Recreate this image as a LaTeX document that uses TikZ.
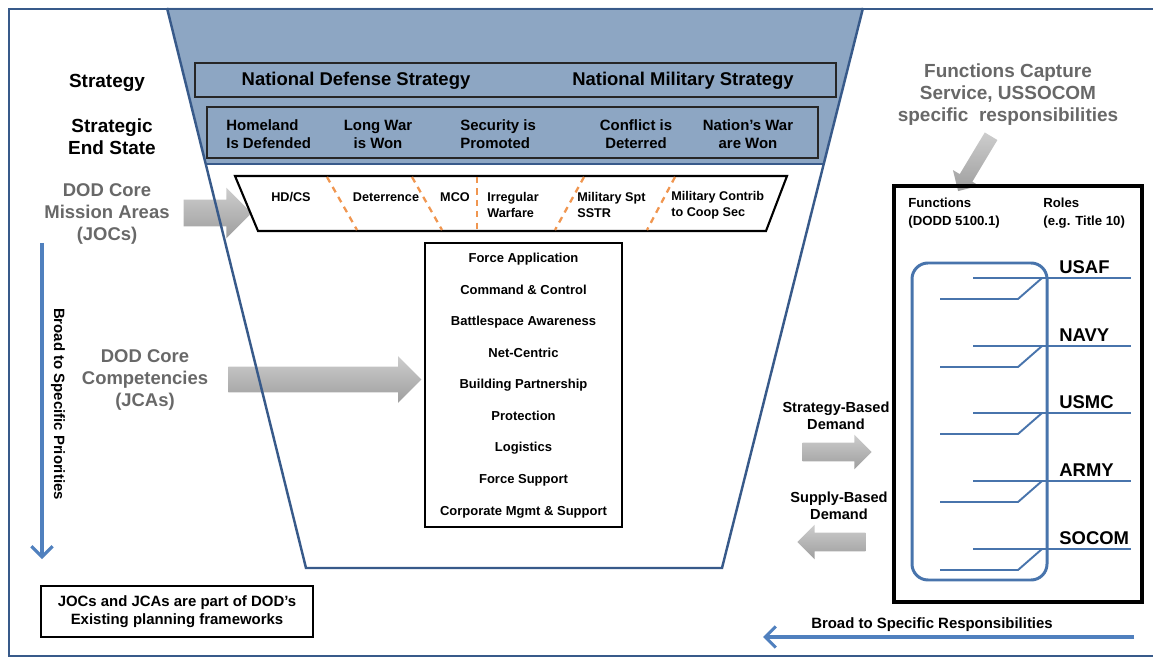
\documentclass[tikz,border=0pt]{standalone}
\usepackage{fontspec}
\setmainfont{Liberation Sans}
\usetikzlibrary{arrows.meta,shapes.arrows}
\newcommand\fnt[2]{\fontsize{#1}{#2}\selectfont\bfseries}
\newdimen\px \px=0.02cm
\definecolor{frame_blue}{RGB}{56,90,138}
\definecolor{fill_blue}{RGB}{141,166,195}
\definecolor{role_blue}{RGB}{72,116,172}
\definecolor{edge_blue}{RGB}{80,128,190}
\definecolor{dash_orange}{RGB}{240,150,80}
\definecolor{label_gray}{RGB}{104,104,104}
\definecolor{block_dark}{RGB}{158,158,158}
\definecolor{block_light}{RGB}{205,205,205}

\begin{document}
\begin{tikzpicture}[x=0.02cm,y=-0.02cm]
    \tikzstyle{txt}=[inner sep=0pt, align=center, text=black]
    \tikzstyle{gtxt}=[txt, text=label_gray]
    \tikzstyle{box}=[draw=black, line width=1.2pt, inner sep=0pt, align=center]
    \tikzstyle{sbox}=[draw=black!85, line width=1pt, inner sep=0pt]
    \tikzstyle{blk}=[single arrow, inner xsep=0pt, top color=block_light, bottom color=block_dark]
    \tikzstyle{flow}=[edge_blue, line width=1.8pt, -{Straight Barb[length=6pt,width=12pt]}]
    \tikzstyle{divider}=[dash_orange, line width=1.3pt, dash pattern=on 3.5pt off 3pt]
    \tikzstyle{role}=[role_blue, line width=1.1pt]

    \useasboundingbox (0,0) rectangle (1153,658);

    % funnel, blue top part
    \fill[fill_blue] (167,8) -- (863,8) -- (824,164) -- (206,164) -- cycle;

    % block arrows
    \node[blk, minimum height=68\px, minimum width=50\px, inner ysep=13\px, single arrow head extend=12\px] (arrJOC) at (211,213) {};
    \node[blk, minimum height=193\px, minimum width=46\px, inner ysep=12.5\px, single arrow head extend=10.5\px] (arrJCA) at (318.5,379.5) {};

    \draw[frame_blue, line width=1.4pt] (167,8) -- (306,568) -- (722,568) -- (863,8);
    \draw[frame_blue, line width=1.3pt] (206,164) -- (824,164);

    % outer frame
    \draw[frame_blue, line width=1.7pt] (1153,9) -- (9,9) -- (9,656) -- (1153,656);

    % strategy rows
    \node[txt, font=\fnt{10.8}{12.5}] (lStrat) at (107,83) {Strategy};
    \node[txt, font=\fnt{10.8}{12.5}] (lEnd) at (112,137) {Strategic\\End State};
    \node[sbox, minimum width=641\px, minimum height=34\px] (strat) at (515.5,80) {};
    \node[txt, font=\fnt{10.5}{12}] (nds) at (356,81) {National Defense Strategy};
    \node[txt, font=\fnt{10.5}{12}] (nms) at (683,81) {National Military Strategy};
    \node[sbox, minimum width=611\px, minimum height=51\px] (ends) at (512.5,132.5) {};
    \node[txt, anchor=west, align=left, font=\fnt{8.5}{10.2}] (es1) at (226,134) {Homeland\\Is Defended};
    \node[txt, font=\fnt{8.5}{10.2}] (es2) at (378,134) {Long War\\is Won};
    \node[txt, anchor=west, align=left, font=\fnt{8.5}{10.2}] (es3) at (460,134) {Security is\\Promoted};
    \node[txt, font=\fnt{8.5}{10.2}] (es4) at (636,134) {Conflict is\\Deterred};
    \node[txt, font=\fnt{8.5}{10.2}] (es5) at (748,134) {Nation’s War\\are Won};

    % mission areas band
    \node[gtxt, font=\fnt{10.5}{12.5}] (lJOC) at (107,214) {DOD Core\\Mission Areas\\(JOCs)};
    \draw[line width=1.2pt] (235,176) -- (787,176) -- (766,231) -- (258,231) -- cycle;
    \foreach \xa/\xb in {327/357, 412/442, 477/477, 584/555, 675/647}
        \draw[divider] (\xa,177) -- (\xb,230);
    \node[txt, font=\fnt{7.2}{9}] (ma1) at (291,197) {HD/CS};
    \node[txt, font=\fnt{7.2}{9}] (ma2) at (386,197) {Deterrence};
    \node[txt, font=\fnt{7.2}{9}] (ma3) at (455,197) {MCO};
    \node[txt, anchor=west, align=left, font=\fnt{7.2}{9}] (ma4) at (487,205) {Irregular\\Warfare};
    \node[txt, anchor=west, align=left, font=\fnt{7.2}{9}] (ma5) at (577,205) {Military Spt\\SSTR};
    \node[txt, anchor=west, align=left, font=\fnt{7.2}{9}] (ma6) at (671,205) {Military Contrib\\to Coop Sec};

    % core competencies
    \node[gtxt, font=\fnt{10.5}{12.5}] (lJCA) at (145,380) {DOD Core\\Competencies\\(JCAs)};
    \node[box, minimum width=197\px, minimum height=284\px] (jcabox) at (523.5,385) {};
    \foreach \item [count=\i from 0] in {Force Application, Command \& Control, Battlespace Awareness, Net-Centric, Building Partnership, Protection, Logistics, Force Support, Corporate Mgmt \& Support}
        \node[txt, anchor=base, font=\fnt{7.4}{9}] (jca\i) at (523.5,{263+31.5*\i}) {\item};

    % priorities arrow
    \coordinate (prioTop) at (42,243);
    \coordinate (prioEnd) at (42,559);
    \node[txt, rotate=-90, font=\fnt{8.5}{10}] (prioTxt) at (58,404) {Broad to Specific Priorities};
    \node[box, minimum width=272\px, minimum height=51\px, font=\fnt{8.5}{10}] (jocbox) at (177,611.5) {JOCs and JCAs are part of DOD’s\\Existing planning frameworks};

    % functions and roles
    \node[gtxt, font=\fnt{10.8}{12.5}] (fcap) at (1008,95) {Functions Capture\\Service, USSOCOM\\specific~ responsibilities};
    \node[blk, rotate=-121, minimum height=64\px, minimum width=30\px, inner ysep=7\px, single arrow head extend=8\px] (arrFnc) at (976.5,160.5) {};
    \node[draw=black, line width=1.8pt, minimum width=248\px, minimum height=416\px] (rolebox) at (1018,394) {};
    \node[txt, anchor=west, align=left, font=\fnt{7.5}{10}] (fnc) at (908,213) {Functions\\(DODD 5100.1)};
    \node[txt, anchor=west, align=left, font=\fnt{7.5}{10}] (roles) at (1043,213) {Roles\\(e.g. Title 10)};
    \draw[role_blue, line width=1.7pt, rounded corners=16\px] (912,263) rectangle (1047,580);
    \foreach \yy/\svc [count=\i from 0] in {278/USAF,346/NAVY,413/USMC,481/ARMY,549/SOCOM}{
        \node[txt, anchor=west, font=\fnt{10.5}{12}] (svc\i) at (1059,\yy-11) {\svc};
        \draw[role] (973,\yy) -- (1131,\yy);
        \draw[role] (940,\yy+21) -- (1018,\yy+21) -- (1042,\yy);
    }

    % demand
    \node[txt, font=\fnt{8.3}{10}] (sbd) at (836,416) {Strategy-Based\\Demand};
    \node[blk, minimum height=69\px, minimum width=34\px, inner ysep=9\px, single arrow head extend=8\px] (arrSbd) at (832.5,452) {};
    \node[txt, font=\fnt{8.3}{10}] (spd) at (839,506) {Supply-Based\\Demand};
    \node[blk, rotate=180, minimum height=68\px, minimum width=34\px, inner ysep=9\px, single arrow head extend=8\px] (arrSpd) at (836,542) {};

    % responsibilities arrow
    \coordinate (respStart) at (1134,637);
    \coordinate (respEnd) at (763,637);
    \node[txt, font=\fnt{8.5}{10}] (respTxt) at (932,625) {Broad to Specific Responsibilities};

    \path
     (prioTop)   edge[flow] (prioEnd)
     (respStart) edge[flow] (respEnd)
     ;
\end{tikzpicture}
\end{document}
